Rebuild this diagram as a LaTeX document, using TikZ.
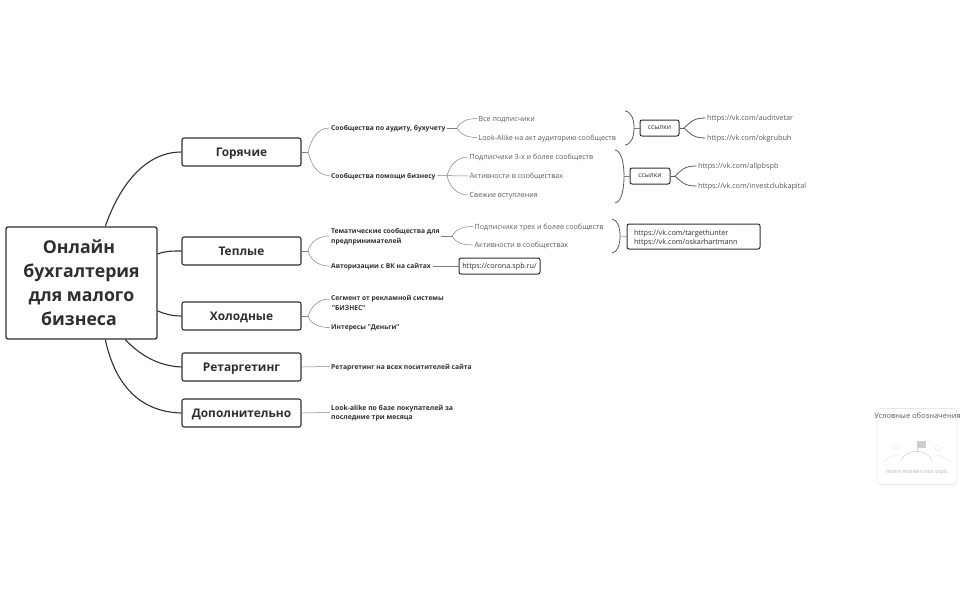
\documentclass[tikz,border=0pt]{standalone}
\usepackage{fontspec}
\setmainfont{Open Sans}
\usepackage{xcolor}
\definecolor{inkdark}{HTML}{2F2F2F}
\definecolor{inkgrey}{HTML}{5A5A5A}
\definecolor{linegrey}{HTML}{808080}
\definecolor{cardgrey}{HTML}{E6E8E8}
\definecolor{markgrey}{HTML}{C9D0CE}
\begin{document}
\begin{tikzpicture}[x=1pt,y=-1pt]
	\tikzstyle{root} = [draw=inkdark,line width=1.3pt,rounded corners=2pt,fill=white,minimum width=151pt,minimum height=112pt,align=center,text=inkdark,font=\fontsize{17.7}{23.8}\selectfont\bfseries,inner sep=0pt,text depth=0.5pt]
	\tikzstyle{topic} = [draw=inkdark,line width=1.1pt,rounded corners=2pt,fill=white,minimum width=119pt,minimum height=28pt,text=inkdark,font=\fontsize{11.9}{14}\selectfont\bfseries,inner sep=0pt,text height=8.5pt,text depth=0pt]
	\tikzstyle{sub} = [anchor=west,align=left,inner sep=1.5pt,text=inkdark,font=\fontsize{6.7}{9.3}\selectfont\bfseries,text depth=0pt]
	\tikzstyle{leaf} = [anchor=west,align=left,inner sep=1.5pt,text=inkgrey,font=\fontsize{7.15}{9}\selectfont,text depth=0pt]
	\tikzstyle{tag} = [draw=inkdark,line width=1pt,rounded corners=2pt,fill=white,inner sep=0pt,text=inkdark,font=\fontsize{7.25}{9.2}\selectfont,text depth=0pt]
	\tikzstyle{edge} = [draw=inkdark,line width=1.1pt]
	\tikzstyle{thin} = [draw=linegrey,line width=0.5pt]
	\tikzstyle{bracket} = [draw=inkgrey,line width=0.8pt]
	\useasboundingbox (0,0) rectangle (962,595);
	% root and main topics
	\node[root] (root) at (81.5,283) {Онлайн\hspace*{5pt}\\бухгалтерия\hspace*{5pt}\\для малого\hspace*{5pt}\\бизнеса\hspace*{5pt}};
	\node[topic] (hot) at (241.5,152) {Горячие};
	\node[topic] (warm) at (241.5,251) {Теплые};
	\node[topic] (cold) at (241.5,316) {Холодные};
	\node[topic] (retarget) at (241.5,367) {Ретаргетинг};
	\node[topic] (extra) at (241.5,413) {Дополнительно};
	\draw[edge] (root.north west)++(100,0) .. controls (116,195) and (140,152) .. (hot.west);
	\draw[edge] (root.east)++(0,-29) .. controls (165,251) and (172,251) .. (warm.west);
	\draw[edge] (root.east)++(0,28) .. controls (165,314) and (172,316) .. (cold.west);
	\draw[edge] (root.south west)++(120,0) .. controls (140,355) and (158,366) .. (retarget.west);
	\draw[edge] (root.south west)++(100,0) .. controls (115,385) and (140,412) .. (extra.west);
	% level two
	\node[sub] (s1) at (329.5,128) {Сообщества по аудиту, бухучету};
	\node[sub] (s2) at (329.5,175.5) {Сообщества помощи бизнесу};
	\node[sub] (s3) at (329.5,236) {Тематические сообщества для\\предпринимателей};
	\node[sub] (s4) at (329.5,266) {Авторизации с ВК на сайтах};
	\node[sub] (s5) at (329.5,303) {Сегмент от рекламной системы\\\hspace*{1pt}"БИЗНЕС"};
	\node[sub] (s6) at (329.5,327.5) {Интересы "Деньги"};
	\node[sub] (s7) at (329.5,366.5) {Ретаргетинг на всех поситителей сайта};
	\node[sub,font=\fontsize{6.85}{9.3}\selectfont\bfseries] (s8) at (329.5,412.5) {Look-alike по базе покупателей за\\последние три месяца};
	\coordinate (j1) at (308,152);
	\coordinate (j2) at (308,251);
	\coordinate (j3) at (308,316);
	\coordinate (s5end) at (329.5,299);
	\draw[thin] (hot.east) -- (j1);
	\draw[thin] (j1) to[out=75,in=180] (s1.west);
	\draw[thin] (j1) to[out=-75,in=180] (s2.west);
	\draw[thin] (warm.east) -- (j2);
	\draw[thin] (j2) to[out=75,in=180] (s3.west);
	\draw[thin] (j2) to[out=-75,in=180] (s4.west);
	\draw[thin] (cold.east) -- (j3);
	\draw[thin] (j3) to[out=70,in=180] (s5end);
	\draw[thin] (j3) to[out=-70,in=180] (s6.west);
	\draw[thin] (retarget.east) -- (s7.west);
	\draw[thin] (extra.east) -- (s8.west);
	% first group
	\node[leaf] (l1) at (477,118.5) {Все подписчики};
	\node[leaf] (l2) at (477,137.5) {Look-Alike на акт аудиторию сообществ};
	\coordinate (j4) at (457,128);
	\draw[thin] (s1.east) -- (j4);
	\draw[thin] (j4) to[out=60,in=180] (l1.west);
	\draw[thin] (j4) to[out=-60,in=180] (l2.west);
	\coordinate (b1t) at (625,111);
	\coordinate (b1m) at (634,128);
	\coordinate (b1b) at (625,145);
	\draw[bracket] (b1t) .. controls (632,112) and (634,120) .. (b1m) .. controls (634,136) and (632,144) .. (b1b);
	\node[tag,minimum width=39pt,minimum height=16pt,font=\fontsize{6.8}{9.2}\selectfont] (t1) at (659.5,128) {ссылки};
	\draw[thin] (b1m) -- (t1.west);
	\node[leaf,font=\fontsize{7.25}{9}\selectfont] (u1) at (705.5,118) {https://vk.com/auditvetar};
	\node[leaf,font=\fontsize{7.25}{9}\selectfont] (u2) at (705.5,138) {https://vk.com/okgrubuh};
	\coordinate (j5) at (684,128);
	\draw[bracket] (t1.east) -- (j5);
	\draw[bracket] (j5) .. controls (690,123) and (692,118) .. (u1.west);
	\draw[bracket] (j5) .. controls (690,133) and (692,138) .. (u2.west);
	% second group
	\node[leaf] (l3) at (468,157) {Подписчики 3-х и более сообществ};
	\node[leaf] (l4) at (468,176) {Активности в сообществах};
	\node[leaf] (l5) at (468,195) {Свежие вступления};
	\coordinate (j6) at (447,176);
	\draw[thin] (s2.east) -- (l4.west);
	\draw[thin] (j6) to[out=75,in=180] (l3.west);
	\draw[thin] (j6) to[out=-75,in=180] (l5.west);
	\coordinate (b2t) at (615,150);
	\coordinate (b2m) at (624,176);
	\coordinate (b2b) at (615,203);
	\draw[bracket] (b2t) .. controls (622,151) and (624,165) .. (b2m) .. controls (624,188) and (622,202) .. (b2b);
	\node[tag,minimum width=40pt,minimum height=16pt,font=\fontsize{6.8}{9.2}\selectfont] (t2) at (650,176) {ссылки};
	\draw[thin] (b2m) -- (t2.west);
	\node[leaf,font=\fontsize{7.25}{9}\selectfont] (u3) at (696.5,166) {https://vk.com/allpbspb};
	\node[leaf,font=\fontsize{7.25}{9}\selectfont] (u4) at (696.5,186) {https://vk.com/investclubkapital};
	\coordinate (j7) at (675,176);
	\draw[bracket] (t2.east) -- (j7);
	\draw[bracket] (j7) .. controls (681,171) and (683,166) .. (u3.west);
	\draw[bracket] (j7) .. controls (681,181) and (683,186) .. (u4.west);
	% third group
	\node[leaf] (l6) at (473,226.5) {Подписчики трех и более сообществ};
	\node[leaf] (l7) at (473,245) {Активности в сообществах};
	\coordinate (j8) at (452,236);
	\draw[thin] (s3.east) -- (j8);
	\draw[thin] (j8) to[out=60,in=180] (l6.west);
	\draw[thin] (j8) to[out=-60,in=180] (l7.west);
	\coordinate (b3t) at (612,219);
	\coordinate (b3m) at (620,236);
	\coordinate (b3b) at (612,253);
	\draw[bracket] (b3t) .. controls (618,220) and (620,228) .. (b3m) .. controls (620,244) and (618,252) .. (b3b);
	\node[tag,minimum width=133pt,minimum height=25pt,align=left,text width=119pt,text depth=8pt] (t3) at (693.5,236.5) {https://vk.com/targethunter\\https://vk.com/oskarhartmann};
	\draw[thin] (b3m) -- (t3.west);
	\node[tag,minimum width=81pt,minimum height=16pt] (t4) at (499.5,266) {https://corona.spb.ru/};
	\draw[thin] (s4.east) -- (t4.west);
	% legend card
	\node[draw=cardgrey,rounded corners=3pt,line width=0.7pt,minimum width=80pt,minimum height=76pt,inner sep=0pt] (card) at (917,446.5) {};
	\node[inner sep=0pt,text=inkgrey,font=\fontsize{7.5}{9}\selectfont] (cardtitle) at (917.5,416) {Условные обозначения};
	\node[inner sep=0pt,text=markgrey,font=\fontsize{5.2}{7}\selectfont\bfseries] (cardhint) at (917,472) {Insert marker into topic};
	\coordinate (a1) at (901,461);
	\coordinate (a2) at (932,461);
	\coordinate (a3) at (883,462);
	\coordinate (a4) at (899,455);
	\coordinate (a5) at (934,455);
	\coordinate (a6) at (951,462);
	\coordinate (p1) at (917,452);
	\coordinate (p2) at (917,441);
	\draw[markgrey,line width=0.5pt] (a1) .. controls (905,448) and (928,448) .. (a2);
	\draw[cardgrey,line width=0.5pt] (a3) .. controls (888,457) and (894,455) .. (a4);
	\draw[cardgrey,line width=0.5pt] (a5) .. controls (940,455) and (946,457) .. (a6);
	\draw[markgrey,line width=0.5pt] (p1) -- (p2);
	\fill[markgrey] (p2) rectangle (926,448);
	\draw[cardgrey,line width=0.5pt] (896,447) circle (3);
	\draw[cardgrey,line width=0.5pt] (938,448) circle (3);
\end{tikzpicture}
\end{document}
